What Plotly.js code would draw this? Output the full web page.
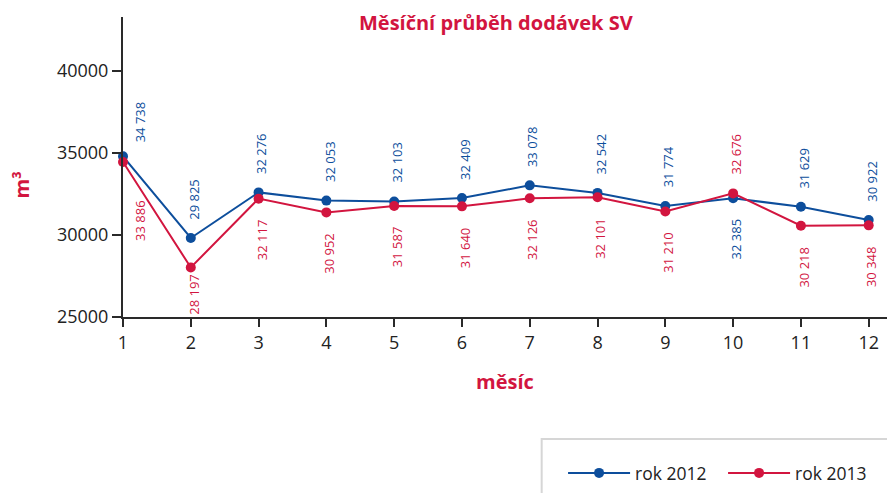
<!DOCTYPE html>
<html>
<head>
<meta charset="utf-8">
<script src="https://cdn.plot.ly/plotly-3.0.1.min.js"></script>
<style>html,body{margin:0;padding:0;background:#fff;}#chart{width:887px;height:493px;}</style>
</head>
<body>
<div id="chart"></div>
<script>
// ---- data ----
const months = [1, 2, 3, 4, 5, 6, 7, 8, 9, 10, 11, 12];
const monthTickLabels = ['1', '2', '3', '4', '5', '6', '7', '8', '9', '10', '11', '12'];
const values2012 = [34800, 29820, 32600, 32100, 32050, 32260, 33030, 32570, 31770, 32240, 31730, 30920];
const values2013 = [34460, 28020, 32220, 31380, 31770, 31750, 32240, 32300, 31440, 32540, 30570, 30590];
const labels2012 = ['34 738', '29 825', '32 276', '32 053', '32 103', '32 409', '33 078', '32 542', '31 774', '32 385', '31 629', '30 922'];
const labels2013 = ['33 886', '28 197', '32 117', '30 952', '31 587', '31 640', '32 126', '32 101', '31 210', '32 676', '30 218', '30 348'];
const yTickValues = [25000, 30000, 35000, 40000];
const seriesNames = ['rok 2012', 'rok 2013'];

// ---- styles / layout constants ----
const BLUE = '#0d4e9c';
const RED = '#d2153f';
const FONT = 'Open Sans, Noto Sans, sans-serif';
const Y_RANGE = [25000, 43300];
const PLOT_H = 300;
const PX_PER_UNIT = PLOT_H / (Y_RANGE[1] - Y_RANGE[0]);
const LABEL_HALF = 21;      // half length of a rotated data label, px
const OFFSET_ABOVE = 39, OFFSET_BELOW = 41;
const FIRST_ABOVE = 34, FIRST_BELOW = 59;   // labels next to the y axis avoid the lines

const traces = [
  {x: months, y: values2012, name: seriesNames[0], type: 'scatter', mode: 'lines+markers',
   line: {color: BLUE, width: 2}, marker: {color: BLUE, size: 10}, cliponaxis: false},
  {x: months, y: values2013, name: seriesNames[1], type: 'scatter', mode: 'lines+markers',
   line: {color: RED, width: 2}, marker: {color: RED, size: 10}, cliponaxis: false}
];

// data labels: rotated, placed on the side away from the other series,
// kept above the x axis
const annotations = [];
months.forEach(function (m, i) {
  const blueAbove = values2012[i] >= values2013[i];
  const first = i === 0;
  [[values2012, labels2012, BLUE, blueAbove], [values2013, labels2013, RED, !blueAbove]].forEach(function (s) {
    const v = s[0][i];
    let shift;
    if (s[3]) {
      shift = first ? FIRST_ABOVE : OFFSET_ABOVE;
    } else {
      const room = (v - Y_RANGE[0]) * PX_PER_UNIT - LABEL_HALF - 2;
      shift = -Math.min(first ? FIRST_BELOW : OFFSET_BELOW, room);
    }
    annotations.push({
      x: m, y: v, xref: 'x', yref: 'y', text: s[1][i], showarrow: false,
      textangle: -90, font: {family: FONT, size: 13, color: s[2]},
      xanchor: first ? 'left' : 'center', yanchor: 'middle',
      xshift: first ? 6 : 3, yshift: shift
    });
  });
});
// y-axis title
annotations.push({
  text: '<b>m³</b>', xref: 'paper', yref: 'paper', x: -0.133, y: 0.44,
  showarrow: false, textangle: -90, font: {family: FONT, size: 20, color: RED},
  xanchor: 'center', yanchor: 'middle'
});

const layout = {
  width: 887, height: 493,
  margin: {l: 123, r: 0, t: 17, b: 176},
  paper_bgcolor: '#fff', plot_bgcolor: '#fff',
  font: {family: FONT, color: '#222'},
  title: {text: '<b>Měsíční průběh dodávek SV</b>', font: {family: FONT, size: 20, color: RED},
          xref: 'paper', x: 0.488, xanchor: 'center', yref: 'container', y: 0.953, yanchor: 'middle'},
  xaxis: {
    range: [1, 12.27], tickvals: months, ticktext: monthTickLabels,
    showline: true, linecolor: '#2a2a2a', linewidth: 2,
    ticks: 'outside', ticklen: 8, tickwidth: 2, tickcolor: '#2a2a2a',
    tickfont: {family: FONT, size: 18, color: '#222'},
    showgrid: false, zeroline: false,
    title: {text: '<b>měsíc</b>', font: {family: FONT, size: 20, color: RED}, standoff: 22}
  },
  yaxis: {
    range: Y_RANGE, tickvals: yTickValues, tickformat: 'd',
    showline: true, linecolor: '#2a2a2a', linewidth: 2,
    ticks: 'outside', ticklen: 9, tickwidth: 2, tickcolor: '#2a2a2a',
    tickfont: {family: FONT, size: 18, color: '#222'},
    showgrid: false, zeroline: false
  },
  showlegend: true,
  legend: {orientation: 'h', x: 0.576, xanchor: 'left', y: -0.46, yanchor: 'top',
           itemwidth: 62, entrywidth: 83, entrywidthmode: 'pixels',
           font: {family: FONT, size: 17.5, color: '#222'}, bgcolor: 'rgba(0,0,0,0)', borderwidth: 0},
  shapes: [{type: 'rect', xref: 'paper', yref: 'paper', x0: 0.548, x1: 1.02, y0: -0.4067, y1: -0.62,
            line: {color: '#d6d6d6', width: 2}, fillcolor: 'rgba(0,0,0,0)', layer: 'below'}],
  annotations: annotations
};

Plotly.newPlot('chart', traces, layout, {displayModeBar: false, staticPlot: true});
</script>
</body>
</html>
